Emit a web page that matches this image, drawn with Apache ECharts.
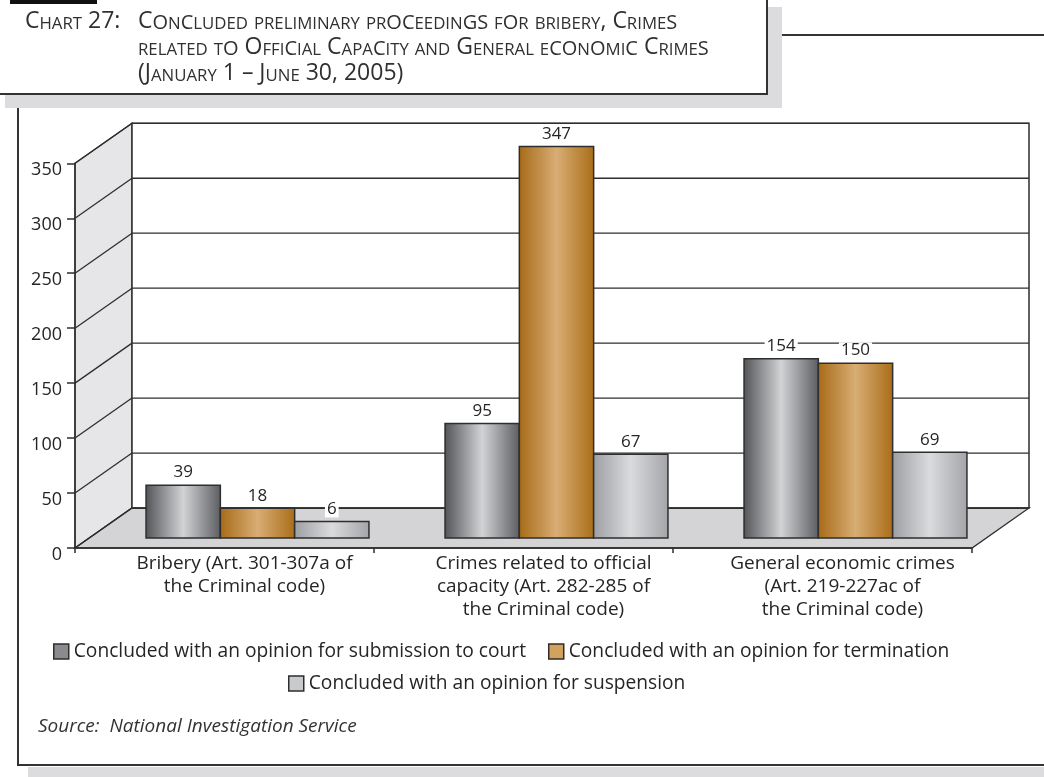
<!DOCTYPE html>
<html><head><meta charset="utf-8">
<script src="https://cdn.jsdelivr.net/npm/echarts@6/dist/echarts.min.js"></script>
<style>html,body{margin:0;padding:0;background:#fff}#c{width:1044px;height:777px}</style>
</head><body><div id="c"></div><script>
// ---------- data ----------
const categories = [
  'Bribery (Art. 301-307a of\nthe Criminal code)',
  'Crimes related to official\ncapacity (Art. 282-285 of\nthe Criminal code)',
  'General economic crimes\n(Art. 219-227ac of\nthe Criminal code)'
];
const seriesNames = [
  'Concluded with an opinion for submission to court',
  'Concluded with an opinion for termination',
  'Concluded with an opinion for suspension'
];
const submissionToCourt = [39, 95, 154];
const termination = [18, 347, 150];
const suspension = [6, 67, 69];
const yTicks = [0, 50, 100, 150, 200, 250, 300, 350];
const titleLabel = 'Chart 27:';
const titleLines = [
  'Concluded preliminary proceedings for bribery, Crimes',
  'related to Official Capacity and General economic Crimes',
  '(January 1 – June 30, 2005)'
];
const sourceText = 'Source:  National Investigation Service';

// ---------- style ----------
const FONT = '"Open Sans", "Liberation Sans", sans-serif';
const INK = '#2e2e2e';
const DX = 57, DY = -40;           // depth offset of the 3-D box
const barStops = [
  ['#515357', '#d2d3d5', '#5a5c60'],
  ['#a66a16', '#d8ad74', '#a96d18'],
  ['#9c9ea2', '#dadbdd', '#a2a4a8']
];
const legendColors = ['#8a8b8f', '#d2a25e', '#c9cacc'];
const seriesValues = [submissionToCourt, termination, suspension];

function grad(stops) {
  return new echarts.graphic.LinearGradient(0, 0, 1, 0, [
    {offset: 0, color: stops[0]}, {offset: 0.5, color: stops[1]}, {offset: 1, color: stops[2]}
  ]);
}

function smallCaps(str) {
  let out = '', cur = null, buf = '';
  const flush = () => { if (buf) { out += '{' + cur + '|' + buf + '}'; buf = ''; } };
  for (const ch of str) {
    let st;
    if (/[a-z]/.test(ch)) st = 'cogs'.includes(ch) ? 'm' : 's';
    else st = 'b';
    if (st !== cur) { flush(); cur = st; }
    buf += ch.toUpperCase();
  }
  flush();
  return out;
}
const capsRich = {
  b: {fontSize: 23, fontFamily: FONT, color: '#303030', fontWeight: 'normal', lineHeight: 26, verticalAlign: 'bottom'},
  m: {fontSize: 20, fontFamily: FONT, color: '#303030', fontWeight: 'normal', lineHeight: 26, verticalAlign: 'bottom'},
  s: {fontSize: 16.8, fontFamily: FONT, color: '#303030', fontWeight: 'normal', lineHeight: 26, verticalAlign: 'bottom'}
};

function barRender(k) {
  return function (params, api) {
    const ci = api.value(0), v = api.value(1);
    const band = api.size([1, 0])[0];
    const bw = band * 0.2485;
    const front = api.coord([ci, v]);
    const base = api.coord([ci, 0]);
    const cx = front[0] + DX / 2 + 4.5;
    const x = cx + (k - 1.5) * bw;
    const top = front[1] + DY / 2;
    const bottom = base[1] + DY / 4;
    return {type: 'group', children: [
      {type: 'rect', shape: {x: x, y: top, width: bw, height: bottom - top},
        style: {fill: grad(barStops[k]), stroke: INK, lineWidth: 1.5}},
      {type: 'text', x: x + bw / 2, y: top - 4,
        style: {text: String(v), fontSize: 17, fontFamily: FONT, fill: '#252525',
          align: 'center', verticalAlign: 'bottom', backgroundColor: '#fff', padding: [0, 2]}}
    ]};
  };
}

const chart = echarts.init(document.getElementById('c'), null, {renderer: 'canvas'});

const series = [
  { // walls and floor
    type: 'custom', name: '_walls', silent: true, z: 1, clip: false,
    data: [[0, yTicks[0]]], encode: {x: 0, y: 1},
    renderItem(params, api) {
      const cs = params.coordSys;
      const y0 = api.coord([0, yTicks[0]])[1];
      const yt = api.coord([0, yTicks[yTicks.length - 1]])[1];
      const xl = cs.x, xr = cs.x + cs.width;
      return {type: 'group', children: [
        {type: 'polygon', shape: {points: [[xl, y0], [xl, yt], [xl + DX, yt + DY], [xl + DX, y0 + DY]]},
          style: {fill: '#e6e6e8', stroke: INK, lineWidth: 1.3}},
        {type: 'polygon', shape: {points: [[xl, y0], [xl + DX, y0 + DY], [xr + DX, y0 + DY], [xr, y0]]},
          style: {fill: '#d4d4d6', stroke: INK, lineWidth: 1.3}},
        {type: 'rect', shape: {x: xl + DX, y: yt + DY, width: xr - xl, height: y0 - yt},
          style: {fill: '#fff', stroke: INK, lineWidth: 1.5}}
      ]};
    }
  },
  { // gridlines on side and back walls
    type: 'custom', name: '_grid', silent: true, z: 2, clip: false,
    data: yTicks.map(t => [0, t]), encode: {x: 0, y: 1},
    renderItem(params, api) {
      const cs = params.coordSys;
      const y = api.coord([0, api.value(1)])[1];
      const xl = cs.x, xr = cs.x + cs.width;
      return {type: 'group', children: [
        {type: 'line', shape: {x1: xl, y1: y, x2: xl + DX, y2: y + DY}, style: {stroke: INK, lineWidth: 1.3}},
        {type: 'line', shape: {x1: xl + DX, y1: y + DY, x2: xr + DX, y2: y + DY}, style: {stroke: INK, lineWidth: 1.3}}
      ]};
    }
  }
];
seriesNames.forEach((name, k) => {
  series.push({
    type: 'custom', name: name, z: 3, clip: false,
    itemStyle: {color: legendColors[k]},
    data: seriesValues[k].map((v, i) => [i, v]), encode: {x: 0, y: 1},
    renderItem: barRender(k)
  });
});

const legendText = {fontSize: 19.2, fontFamily: FONT, color: '#252525'};
chart.setOption({
  backgroundColor: '#fff',
  animation: false,
  title: [
    {text: smallCaps(titleLabel), left: 25, top: 7, padding: 0, textStyle: {rich: capsRich}},
    {text: titleLines.map(smallCaps).join('\n'), left: 138, top: 7, padding: 0, textStyle: {rich: capsRich}},
    {text: sourceText, left: 38, top: 717, padding: 0,
      textStyle: {fontSize: 19, fontStyle: 'italic', fontWeight: 'normal', color: '#333', fontFamily: FONT}}
  ],
  legend: [
    {data: seriesNames.slice(0, 2).map((n, i) => ({name: n, itemStyle: {color: legendColors[i], borderColor: INK, borderWidth: 1.5}})),
      left: 53, top: 642, padding: 0, itemGap: 22, itemWidth: 15, itemHeight: 15, icon: 'rect',
      selectedMode: false, textStyle: legendText},
    {data: seriesNames.slice(2).map((n, i) => ({name: n, itemStyle: {color: legendColors[2 + i], borderColor: INK, borderWidth: 1.5}})),
      left: 288, top: 674, padding: 0, itemWidth: 15, itemHeight: 15, icon: 'rect',
      selectedMode: false, textStyle: legendText}
  ],
  grid: {left: 75, width: 897, top: 163.3, height: 384.7, containLabel: false},
  xAxis: {
    type: 'category', data: categories, boundaryGap: true, z: 5,
    axisLine: {lineStyle: {color: INK, width: 1.5}},
    axisTick: {show: true, length: 5, lineStyle: {color: INK, width: 1.5}},
    axisLabel: {interval: 0, fontSize: 19, lineHeight: 23, fontFamily: FONT, color: '#252525', margin: 4, padding: [0, 0, 0, 40]},
    splitLine: {show: false}
  },
  yAxis: {
    type: 'value', min: yTicks[0], max: yTicks[yTicks.length - 1], interval: 50, z: 5,
    axisLine: {show: true, lineStyle: {color: INK, width: 1.5}},
    axisTick: {show: true, length: 8, lineStyle: {color: INK, width: 1.5}},
    axisLabel: {fontSize: 18, fontFamily: FONT, color: '#252525', margin: 13, verticalAlign: 'top', lineHeight: 13},
    splitLine: {show: false}
  },
  graphic: {elements: [
    {type: 'polyline', shape: {points: [[18, 108], [18, 765], [1050, 765]]}, style: {stroke: '#333', lineWidth: 2, fill: null}},
    {type: 'line', shape: {x1: 782, y1: 35, x2: 1050, y2: 35}, style: {stroke: '#333', lineWidth: 2}},
    {type: 'rect', shape: {x: 28, y: 767, width: 1030, height: 12}, style: {fill: '#dcdcde'}},
    {type: 'rect', shape: {x: 5, y: 7, width: 777, height: 101}, style: {fill: '#dcdcde'}},
    {type: 'rect', shape: {x: -5, y: -5, width: 772, height: 99}, style: {fill: '#fff', stroke: '#333', lineWidth: 2}},
    {type: 'rect', shape: {x: 10, y: 0, width: 87, height: 4}, style: {fill: '#111'}}
  ]},
  series: series
});
</script></body></html>
